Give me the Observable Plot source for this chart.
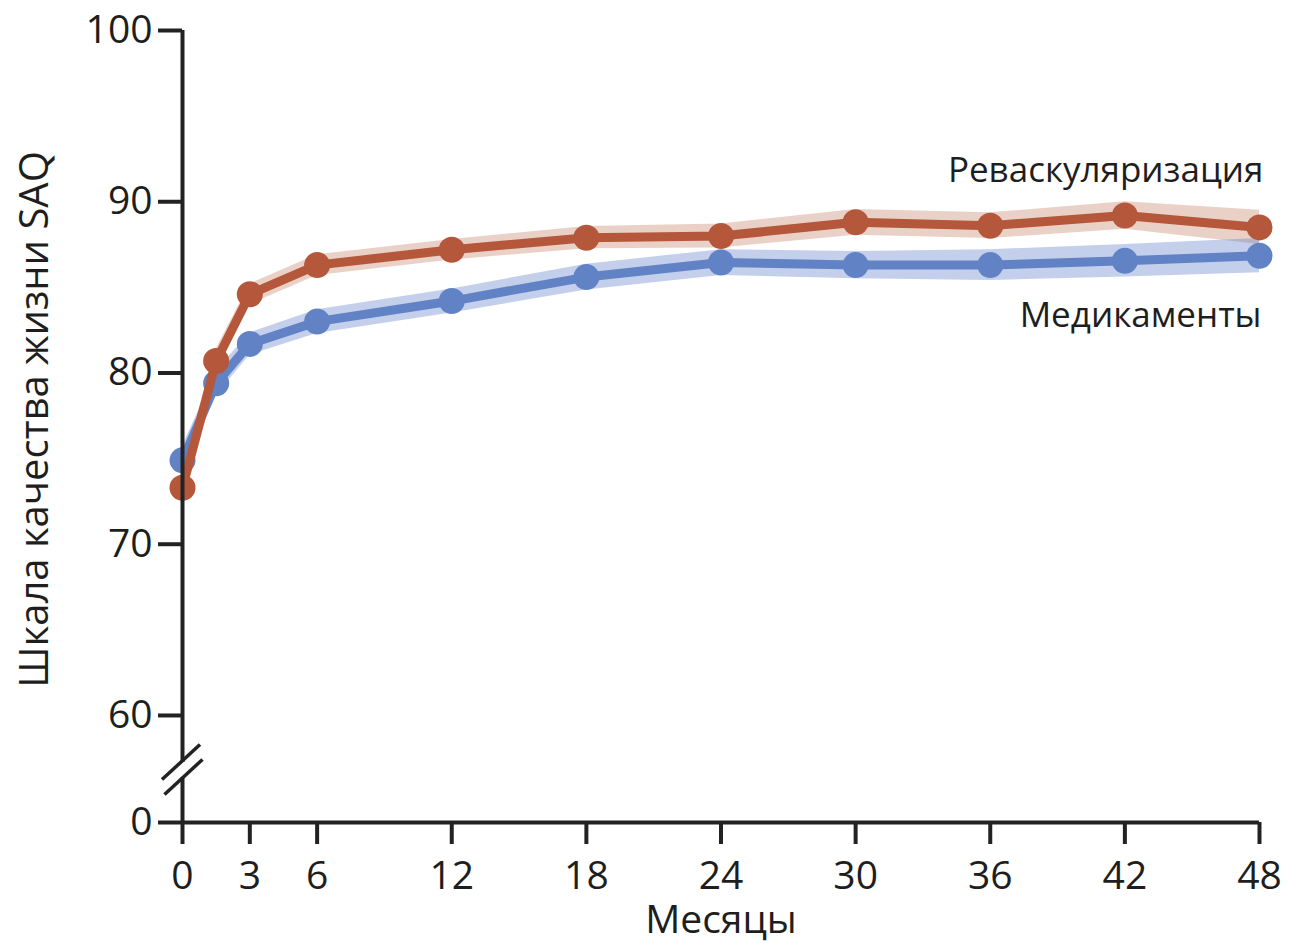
<!DOCTYPE html>
<html>
<head>
<meta charset="utf-8">
<script src="https://cdn.jsdelivr.net/npm/d3@7"></script>
<script src="https://cdn.jsdelivr.net/npm/@observablehq/plot@0.6"></script>
<style>
  html, body { margin: 0; padding: 0; background: #fff; }
</style>
</head>
<body>
<div id="chart"></div>
<script>
// ---- data ----
const months   = [0, 1.5, 3, 6, 12, 18, 24, 30, 36, 42, 48];
const revasc   = [73.3, 80.7, 84.6, 86.3, 87.2, 87.9, 88.0, 88.8, 88.6, 89.2, 88.5];
const revascCI = [0.8, 0.7, 0.6, 0.6, 0.6, 0.65, 0.7, 0.75, 0.75, 0.8, 1.0];
const medic    = [74.9, 79.4, 81.7, 83.0, 84.2, 85.6, 86.45, 86.3, 86.3, 86.55, 86.85];
const medicCI  = [0.8, 0.7, 0.65, 0.7, 0.7, 0.75, 0.75, 0.8, 0.9, 0.95, 1.0];

const seriesNames = ["Реваскуляризация", "Медикаменты"];
const xTicks = [0, 3, 6, 12, 18, 24, 30, 36, 42, 48];
// y axis is broken: the "0" tick is drawn just below 60
const yTicks = [53.75, 60, 70, 80, 90, 100];
const yTickLabels = ["0", "60", "70", "80", "90", "100"];
const yBreak = [56.38, 57.25];   // gap in the axis line
const xLabel = "Месяцы";
const yLabel = "Шкала качества жизни SAQ";

const redLine = "#b5573a", redBand = "#c27a5e";
const blueLine = "#6282c6", blueBand = "#6a88cc";
const ink = "#1e1e1e";

const rowsR = months.map((m, i) => ({m, v: revasc[i], lo: revasc[i] - revascCI[i], hi: revasc[i] + revascCI[i]}));
const rowsB = months.map((m, i) => ({m, v: medic[i], lo: medic[i] - medicCI[i], hi: medic[i] + medicCI[i]}));
const yDomain = [yTicks[0], yTicks[yTicks.length - 1]];
const axisSegs = [{y1: yDomain[0], y2: yBreak[0]}, {y1: yBreak[1], y2: yDomain[1]}];

const chart = Plot.plot({
  width: 1290,
  height: 943,
  marginLeft: 182,
  marginRight: 31,
  marginTop: 30,
  marginBottom: 121,
  style: {fontFamily: "'Open Sans', sans-serif", background: "#fff", color: ink},
  x: {domain: [0, 48]},
  y: {domain: yDomain},
  marks: [
    Plot.areaY(rowsR, {x: "m", y1: "lo", y2: "hi", fill: redBand, fillOpacity: 0.35}),
    Plot.areaY(rowsB, {x: "m", y1: "lo", y2: "hi", fill: blueBand, fillOpacity: 0.4}),
    Plot.line(rowsB, {x: "m", y: "v", stroke: blueLine, strokeWidth: 9}),
    Plot.dot(rowsB, {x: "m", y: "v", r: 13, fill: blueLine}),
    Plot.line(rowsR, {x: "m", y: "v", stroke: redLine, strokeWidth: 9}),
    Plot.dot(rowsR, {x: "m", y: "v", r: 13, fill: redLine}),
    // axis lines
    Plot.ruleY([yDomain[0]], {stroke: "#222", strokeWidth: 4}),
    Plot.ruleX(axisSegs, {x: 0, y1: "y1", y2: "y2", stroke: "#222", strokeWidth: 4}),
    Plot.axisX({ticks: xTicks, tickFormat: d => String(d), tickSize: 22, tickPadding: 17,
                fontSize: 39, stroke: "#222", strokeWidth: 4, color: ink, label: null}),
    Plot.axisY({ticks: yTicks, tickFormat: d => yTickLabels[yTicks.indexOf(d)], tickSize: 24, tickPadding: 6,
                fontSize: 39, stroke: "#222", strokeWidth: 4, color: ink, label: null}),
    // titles
    Plot.text([yLabel], {frameAnchor: "left", textAnchor: "middle", lineAnchor: "middle", rotate: -90,
                         dx: -147, dy: -7, fontSize: 40, fill: ink, text: d => d}),
    Plot.text([xLabel], {frameAnchor: "bottom", lineAnchor: "middle", dy: 98, fontSize: 39, fill: ink, text: d => d}),
    // series labels
    Plot.text([seriesNames[0]], {frameAnchor: "top-right", textAnchor: "end", dx: 4, dy: 127, fontSize: 35, fill: ink, text: d => d}),
    Plot.text([seriesNames[1]], {frameAnchor: "top-right", textAnchor: "end", dx: 2, dy: 272, fontSize: 35, fill: ink, text: d => d})
  ]
});

// axis-break slashes, placed with the chart's own scales
const sx = chart.scale("x"), sy = chart.scale("y");
const x0 = sx.apply(0);
const svg = d3.select(chart.tagName === "svg" ? chart : chart.querySelector("svg"));
[yBreak[1], yBreak[0]].forEach((v, i) => {
  const cx = x0 + (i === 0 ? -1 : 1.5), cy = sy.apply(v);
  svg.append("line")
    .attr("x1", cx - 19).attr("y1", cy + 17.5)
    .attr("x2", cx + 19).attr("y2", cy - 17.5)
    .attr("stroke", "#222").attr("stroke-width", 3.5);
});

document.getElementById("chart").appendChild(chart);
</script>
</body>
</html>
